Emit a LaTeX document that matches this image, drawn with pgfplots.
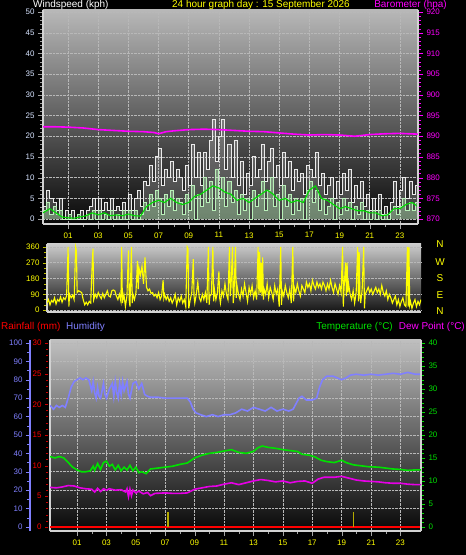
\documentclass[border=0pt]{standalone}
\usepackage{pgfplots}
\pgfplotsset{compat=1.18}
\usepackage{fontspec}
\setmainfont{Liberation Sans}
\definecolor{tyel}{RGB}{255,255,0}
\definecolor{tmag}{RGB}{255,0,255}
\definecolor{dmag}{RGB}{230,0,230}
\definecolor{hum}{RGB}{128,128,255}
\definecolor{tgreen}{RGB}{0,225,0}
\definecolor{wlab}{RGB}{215,228,255}
\definecolor{pgreen}{RGB}{185,240,185}
\definecolor{agreen}{RGB}{0,220,0}
\definecolor{olv}{RGB}{180,170,0}
\definecolor{bord}{RGB}{210,210,210}
\newcommand{\tk}{\fontsize{8}{9}\selectfont}
\newcommand{\ttl}{\fontsize{10}{12}\selectfont}
\pgfplotsset{
  base/.style={scale only axis, anchor=south west,
    /pgf/number format/assume math mode=true,
    tick label style={font=\tk},
    tick align=outside, major tick length=5bp, minor tick length=3bp,
    axis line style={bord, line width=1.2bp},
    grid style={densely dotted, white!72!black, line width=0.5bp},
    clip=true},
  hourx/.style={xtick={1,3,...,23},
    xticklabels={01,03,05,07,09,11,13,15,17,19,21,23},
    xticklabel style={text=tyel},
    minor x tick num=1, x tick style={gray!70}},
}
\begin{document}
\begin{tikzpicture}
\useasboundingbox (0,0) rectangle (466bp,555bp);
\fill[black] (0,0) rectangle (466bp,555bp);

% ---------------- Panel 1: wind speed ----------------
\begin{axis}[base, hourx, at={(43bp,331bp)}, width=375bp, height=214bp,
  xmin=-0.66, xmax=24.2, ymin=-1.2, ymax=50.5,
  axis background/.style={top color=black!28, bottom color=black!97},
  axis x line*=bottom, axis y line*=left,
  ytick={0,5,...,50}, minor y tick num=4,
  yticklabel style={text=wlab}, y tick style={gray!75},
  xmajorgrids, ymajorgrids]
\addplot[const plot, draw=none, fill=white, fill opacity=0.2] coordinates {
(-0.66,3)(-0.6,3)(-0.4,7)(-0.2,5)(0,4)(0.2,2)(0.4,5)(0.6,0)(0.8,2)(1.0,0)(1.2,2)(1.4,0)(1.6,0)(1.8,2)(2.0,0)(2.2,2)(2.4,3)(2.6,5)(2.8,2)(3.0,5)(3.2,2)(3.4,4)(3.6,2)(3.8,5)(4.0,2)(4.2,3)(4.4,2)(4.6,4)(4.8,2)(5.0,6)(5.2,2)(5.4,5)(5.6,7)(5.8,3)(6.0,9)(6.2,8)(6.4,13)(6.6,9)(6.8,15)(7.0,17)(7.2,8)(7.4,12)(7.6,10)(7.8,14)(8.0,9)(8.2,12)(8.4,10)(8.6,7)(8.8,13)(9.0,8)(9.2,18)(9.4,10)(9.6,16)(9.8,8)(10.0,16)(10.2,12)(10.4,19)(10.6,24)(10.8,14)(11.0,20)(11.2,24)(11.4,12)(11.6,18)(11.8,10)(12.0,19)(12.2,8)(12.4,14)(12.6,6)(12.8,11)(13.0,8)(13.2,15)(13.4,10)(13.6,12)(13.8,18)(14.0,9)(14.2,14)(14.4,17)(14.6,10)(14.8,13)(15.0,8)(15.2,16)(15.4,10)(15.6,14)(15.8,7)(16.0,12)(16.2,9)(16.4,11)(16.6,6)(16.8,13)(17.0,12)(17.2,10)(17.4,16)(17.6,8)(17.8,11)(18.0,6)(18.2,8)(18.4,10)(18.6,5)(18.8,9)(19.0,6)(19.2,11)(19.4,7)(19.6,12)(19.8,4)(20.0,8)(20.2,5)(20.4,9)(20.6,3)(20.8,6)(21.0,2)(21.2,5)(21.4,2)(21.6,6)(21.8,1)(22.0,3)(22.2,1)(22.4,4)(22.6,9)(22.8,3)(23.0,7)(23.2,10)(23.4,5)(23.6,9)(23.8,6)(24.0,8)(24.2,5)} \closedcycle;
\addplot[const plot, color=white!92!black, line width=0.9bp] coordinates {
(-0.66,3)(-0.6,3)(-0.4,7)(-0.2,5)(0,4)(0.2,2)(0.4,5)(0.6,0)(0.8,2)(1.0,0)(1.2,2)(1.4,0)(1.6,0)(1.8,2)(2.0,0)(2.2,2)(2.4,3)(2.6,5)(2.8,2)(3.0,5)(3.2,2)(3.4,4)(3.6,2)(3.8,5)(4.0,2)(4.2,3)(4.4,2)(4.6,4)(4.8,2)(5.0,6)(5.2,2)(5.4,5)(5.6,7)(5.8,3)(6.0,9)(6.2,8)(6.4,13)(6.6,9)(6.8,15)(7.0,17)(7.2,8)(7.4,12)(7.6,10)(7.8,14)(8.0,9)(8.2,12)(8.4,10)(8.6,7)(8.8,13)(9.0,8)(9.2,18)(9.4,10)(9.6,16)(9.8,8)(10.0,16)(10.2,12)(10.4,19)(10.6,24)(10.8,14)(11.0,20)(11.2,24)(11.4,12)(11.6,18)(11.8,10)(12.0,19)(12.2,8)(12.4,14)(12.6,6)(12.8,11)(13.0,8)(13.2,15)(13.4,10)(13.6,12)(13.8,18)(14.0,9)(14.2,14)(14.4,17)(14.6,10)(14.8,13)(15.0,8)(15.2,16)(15.4,10)(15.6,14)(15.8,7)(16.0,12)(16.2,9)(16.4,11)(16.6,6)(16.8,13)(17.0,12)(17.2,10)(17.4,16)(17.6,8)(17.8,11)(18.0,6)(18.2,8)(18.4,10)(18.6,5)(18.8,9)(19.0,6)(19.2,11)(19.4,7)(19.6,12)(19.8,4)(20.0,8)(20.2,5)(20.4,9)(20.6,3)(20.8,6)(21.0,2)(21.2,5)(21.4,2)(21.6,6)(21.8,1)(22.0,3)(22.2,1)(22.4,4)(22.6,9)(22.8,3)(23.0,7)(23.2,10)(23.4,5)(23.6,9)(23.8,6)(24.0,8)(24.2,5)};
\addplot[const plot, draw=none, fill=pgreen, fill opacity=0.4] coordinates {
(-0.66,2)(-0.6,2)(-0.4,4)(-0.2,1)(0,3)(0.2,1)(0.4,2)(0.6,0)(0.8,0)(1.0,1)(1.2,0)(1.4,0)(1.6,1)(1.8,0)(2.0,0)(2.2,1)(2.4,0)(2.6,2)(2.8,0)(3.0,2)(3.2,0)(3.4,1)(3.6,0)(3.8,2)(4.0,0)(4.2,1)(4.4,0)(4.6,2)(4.8,0)(5.0,2)(5.2,0)(5.4,2)(5.6,0)(5.8,1)(6.0,4)(6.2,2)(6.4,6)(6.6,3)(6.8,7)(7.0,5)(7.2,1)(7.4,6)(7.6,3)(7.8,7)(8.0,2)(8.2,5)(8.4,4)(8.6,1)(8.8,6)(9.0,2)(9.2,8)(9.4,0)(9.6,6)(9.8,3)(10.0,10)(10.2,4)(10.4,9)(10.6,2)(10.8,12)(11.0,5)(11.2,10)(11.4,3)(11.6,9)(11.8,4)(12.0,7)(12.2,1)(12.4,6)(12.6,2)(12.8,5)(13.0,0)(13.2,7)(13.4,3)(13.6,6)(13.8,9)(14.0,2)(14.2,7)(14.4,10)(14.6,3)(14.8,6)(15.0,0)(15.2,8)(15.4,3)(15.6,6)(15.8,1)(16.0,5)(16.2,2)(16.4,5)(16.6,0)(16.8,7)(17.0,9)(17.2,4)(17.4,7)(17.6,2)(17.8,5)(18.0,1)(18.2,3)(18.4,5)(18.6,0)(18.8,4)(19.0,1)(19.2,5)(19.4,2)(19.6,4)(19.8,0)(20.0,3)(20.2,1)(20.4,4)(20.6,0)(20.8,2)(21.0,0)(21.2,2)(21.4,0)(21.6,2)(21.8,0)(22.0,1)(22.2,0)(22.4,2)(22.6,3)(22.8,1)(23.0,3)(23.2,5)(23.4,2)(23.6,4)(23.8,2)(24.0,4)(24.2,2)} \closedcycle;
\addplot[const plot, color=pgreen, line width=0.9bp] coordinates {
(-0.66,2)(-0.6,2)(-0.4,4)(-0.2,1)(0,3)(0.2,1)(0.4,2)(0.6,0)(0.8,0)(1.0,1)(1.2,0)(1.4,0)(1.6,1)(1.8,0)(2.0,0)(2.2,1)(2.4,0)(2.6,2)(2.8,0)(3.0,2)(3.2,0)(3.4,1)(3.6,0)(3.8,2)(4.0,0)(4.2,1)(4.4,0)(4.6,2)(4.8,0)(5.0,2)(5.2,0)(5.4,2)(5.6,0)(5.8,1)(6.0,4)(6.2,2)(6.4,6)(6.6,3)(6.8,7)(7.0,5)(7.2,1)(7.4,6)(7.6,3)(7.8,7)(8.0,2)(8.2,5)(8.4,4)(8.6,1)(8.8,6)(9.0,2)(9.2,8)(9.4,0)(9.6,6)(9.8,3)(10.0,10)(10.2,4)(10.4,9)(10.6,2)(10.8,12)(11.0,5)(11.2,10)(11.4,3)(11.6,9)(11.8,4)(12.0,7)(12.2,1)(12.4,6)(12.6,2)(12.8,5)(13.0,0)(13.2,7)(13.4,3)(13.6,6)(13.8,9)(14.0,2)(14.2,7)(14.4,10)(14.6,3)(14.8,6)(15.0,0)(15.2,8)(15.4,3)(15.6,6)(15.8,1)(16.0,5)(16.2,2)(16.4,5)(16.6,0)(16.8,7)(17.0,9)(17.2,4)(17.4,7)(17.6,2)(17.8,5)(18.0,1)(18.2,3)(18.4,5)(18.6,0)(18.8,4)(19.0,1)(19.2,5)(19.4,2)(19.6,4)(19.8,0)(20.0,3)(20.2,1)(20.4,4)(20.6,0)(20.8,2)(21.0,0)(21.2,2)(21.4,0)(21.6,2)(21.8,0)(22.0,1)(22.2,0)(22.4,2)(22.6,3)(22.8,1)(23.0,3)(23.2,5)(23.4,2)(23.6,4)(23.8,2)(24.0,4)(24.2,2)};
\addplot[agreen, line width=1.1bp] coordinates {
(-0.66,1.5)(-0.2,2.5)(0.2,1.5)(0.6,0.5)(1.0,0.3)(1.4,0.2)(1.8,0.5)(2.2,0.8)(2.6,1.5)(3.0,1.0)(3.4,1.5)(3.8,0.8)(4.2,1.0)(4.6,0.8)(5.0,1.2)(5.4,0.8)(5.8,0.7)(6.2,3.0)(6.6,4.0)(7.0,4.5)(7.4,4.0)(7.8,5.0)(8.2,4.0)(8.6,3.5)(9.0,4.0)(9.4,5.5)(9.8,6.0)(10.2,7.0)(10.6,8.0)(11.0,7.5)(11.4,6.5)(11.8,6.0)(12.2,4.5)(12.6,5.0)(13.0,4.0)(13.4,5.0)(13.8,6.0)(14.2,7.0)(14.6,6.0)(15.0,4.5)(15.4,5.0)(15.8,4.0)(16.2,4.5)(16.6,4.0)(17.0,7.0)(17.4,8.0)(17.8,5.0)(18.2,4.5)(18.6,3.5)(19.0,2.5)(19.4,3.0)(19.8,2.5)(20.2,2.0)(20.6,2.0)(21.0,1.5)(21.4,1.5)(21.8,0.8)(22.2,1.0)(22.6,2.5)(23.0,2.5)(23.4,3.5)(23.8,4.0)(24.2,3.0)};
\end{axis}

% Barometer
\begin{axis}[base, at={(43bp,331bp)}, width=375bp, height=214bp,
  xmin=-0.66, xmax=24.2, ymin=868.8, ymax=920.5,
  axis y line*=right, axis x line=none,
  ytick={870,875,...,920}, minor y tick num=4,
  yticklabel style={text=tmag}, y tick style={tmag}]
\addplot[tmag, line width=1.6bp] coordinates {
(-0.66,892.3)(0,892.3)(1,892.2)(2,892.0)(3,891.6)(4,891.4)(5,891.2)(6,891.1)(6.7,890.9)(7,890.6)(7.5,891.1)(8,891.3)(9,891.6)(10,891.7)(11,891.6)(12,891.4)(13,891.2)(14,891.1)(15,890.8)(16,890.5)(17,890.3)(18,890.4)(19,890.3)(20,890.0)(21,890.4)(22,890.6)(23,890.7)(24.2,890.5)};
\end{axis}

% ---------------- Panel 2: wind direction ----------------
\begin{axis}[base, at={(47bp,243bp)}, width=374bp, height=68bp,
  xmin=-0.4, xmax=24.4, ymin=-11, ymax=377,
  axis background/.style={top color=black!20, bottom color=black!92},
  axis x line*=bottom, axis y line*=left,
  xtick=\empty, ytick={0,90,180,270,360}, minor y tick num=2,
  major tick length=4bp, minor tick length=3bp,
  yticklabel style={text=tyel}, y tick style={tyel!75!black},
  ymajorgrids]
\addplot[tyel, line width=1.1bp] coordinates {
(-0.4,40)(-0.3,60)(-0.2,30)(-0.1,55)(0,45)(0.1,70)(0.2,35)(0.3,60)(0.4,50)(0.5,75)(0.6,45)(0.7,70)(0.8,60)(0.9,80)(1.0,360)(1.05,20)(1.1,90)(1.2,70)(1.3,85)(1.4,60)(1.5,360)(1.55,340)(1.6,100)(1.7,110)(1.8,105)(1.9,100)(2.0,60)(2.1,30)(2.2,45)(2.3,30)(2.4,50)(2.5,40)(2.6,270)(2.65,350)(2.7,60)(2.8,90)(2.9,70)(3.0,100)(3.1,80)(3.2,65)(3.3,95)(3.4,70)(3.5,90)(3.6,110)(3.7,80)(3.8,75)(3.9,110)(4.0,115)(4.1,110)(4.2,80)(4.3,60)(4.4,90)(4.5,50)(4.55,360)(4.6,40)(4.7,90)(4.8,20)(4.9,80)(5.0,340)(5.05,60)(5.1,20)(5.2,360)(5.25,40)(5.3,90)(5.4,60)(5.5,100)(5.6,280)(5.65,120)(5.7,240)(5.8,200)(5.9,250)(6.0,150)(6.1,300)(6.2,130)(6.3,110)(6.4,120)(6.5,95)(6.6,100)(6.7,80)(6.8,90)(6.9,70)(7.0,100)(7.1,60)(7.2,80)(7.3,170)(7.35,70)(7.4,90)(7.5,60)(7.6,80)(7.7,50)(7.8,70)(7.9,40)(8.0,60)(8.1,90)(8.2,30)(8.3,70)(8.4,50)(8.5,80)(8.6,40)(8.7,60)(8.8,20)(8.9,360)(8.95,350)(9.0,10)(9.1,60)(9.2,100)(9.3,290)(9.35,80)(9.4,40)(9.5,90)(9.6,160)(9.7,70)(9.8,50)(9.9,90)(10.0,60)(10.1,100)(10.2,40)(10.3,360)(10.35,30)(10.4,80)(10.5,90)(10.6,360)(10.65,50)(10.7,120)(10.8,60)(10.9,100)(11.0,220)(11.05,70)(11.1,40)(11.2,110)(11.3,80)(11.4,150)(11.5,90)(11.6,60)(11.7,360)(11.75,80)(11.8,130)(11.9,360)(11.95,40)(12.0,100)(12.1,360)(12.15,70)(12.2,140)(12.3,90)(12.4,60)(12.5,120)(12.6,80)(12.7,150)(12.8,100)(12.9,50)(13.0,130)(13.1,90)(13.2,140)(13.3,70)(13.4,110)(13.5,60)(13.6,360)(13.65,90)(13.7,330)(13.75,100)(13.8,270)(13.85,80)(13.9,300)(13.95,60)(14.0,120)(14.1,90)(14.2,150)(14.3,70)(14.4,130)(14.5,100)(14.6,60)(14.7,140)(14.8,90)(14.9,120)(15.0,20)(15.1,360)(15.15,30)(15.2,110)(15.3,80)(15.4,140)(15.5,100)(15.6,70)(15.7,120)(15.8,40)(15.9,360)(15.95,50)(16.0,130)(16.1,100)(16.2,150)(16.3,110)(16.4,80)(16.5,140)(16.6,120)(16.7,100)(16.8,160)(16.9,130)(17.0,150)(17.1,110)(17.2,170)(17.3,140)(17.4,120)(17.5,160)(17.6,130)(17.7,150)(17.8,120)(17.9,160)(18.0,140)(18.1,110)(18.2,150)(18.3,120)(18.4,170)(18.5,130)(18.6,100)(18.7,150)(18.8,120)(18.9,90)(19.0,140)(19.1,100)(19.2,360)(19.25,20)(19.3,130)(19.4,270)(19.45,80)(19.5,270)(19.55,100)(19.6,150)(19.7,90)(19.8,60)(19.9,110)(20.0,40)(20.1,100)(20.2,360)(20.25,50)(20.3,330)(20.35,90)(20.4,40)(20.5,120)(20.6,360)(20.65,10)(20.7,90)(20.8,110)(20.9,130)(21.0,100)(21.1,120)(21.2,90)(21.3,110)(21.4,130)(21.5,100)(21.6,120)(21.7,90)(21.8,140)(21.9,100)(22.0,80)(22.1,110)(22.2,60)(22.3,90)(22.4,70)(22.5,40)(22.6,60)(22.7,80)(22.8,30)(22.9,60)(23.0,20)(23.1,50)(23.2,70)(23.3,30)(23.4,20)(23.5,360)(23.55,20)(23.6,360)(23.65,30)(23.7,50)(23.8,10)(23.9,40)(24.0,60)(24.1,20)(24.2,50)(24.3,30)(24.4,60)};
\end{axis}

% ---------------- Panel 3: humidity / rain / temperature ----------------
\begin{axis}[base, hourx, at={(50bp,24bp)}, width=371bp, height=191bp,
  xmin=-0.84, xmax=24.4, ymin=-2.2, ymax=101.6,
  axis background/.style={top color=black!25, bottom color=black!97},
  axis x line*=bottom, axis y line*=left,
  ytick={0,10,...,100}, yticklabels={}, y tick style={draw=none},
  xmajorgrids, ymajorgrids]
\addplot[hum, line width=1.6bp] coordinates {
(-0.84,66)(-0.6,64)(-0.4,66)(-0.2,65)(0,66)(0.2,65)(0.4,70)(0.6,76)(0.8,79)(1.0,80)(1.2,81)(1.4,80)(1.6,81)(1.8,80)(2.0,74)(2.1,79)(2.2,73)(2.3,70)(2.4,76)(2.5,71)(2.6,70)(2.8,78)(2.9,72)(3.0,70)(3.2,75)(3.4,78)(3.5,71)(3.6,79)(3.7,73)(3.8,70)(3.9,78)(4.0,72)(4.1,79)(4.2,74)(4.4,79)(4.5,72)(4.6,70)(4.8,78)(5.0,79)(5.2,75)(5.4,78)(5.6,72)(5.8,71)(6.0,70.5)(6.5,70.5)(7.0,70)(7.5,70)(8.0,70)(8.5,70)(8.7,68)(8.9,64)(9.1,62)(9.4,61)(9.8,60)(10.2,61)(10.6,60)(11.0,61)(11.4,61)(11.8,62)(12.2,64)(12.6,63)(13.0,65)(13.4,64)(13.8,63)(14.2,65)(14.6,63)(15.0,64)(15.4,63)(15.7,64)(15.9,67)(16.1,70)(16.3,71)(16.6,69)(17.0,69)(17.3,70)(17.5,76)(17.7,80)(18.0,82)(18.4,82)(18.7,81)(19.0,80)(19.3,81)(19.6,82.5)(20.0,83)(20.5,82.5)(21.0,83)(21.5,82.5)(22.0,83)(22.5,83.5)(23.0,83)(23.5,84)(24.0,83)(24.4,83)};
\addplot[red, line width=2bp] coordinates {(-0.84,0)(24.4,0)};
\addplot[olv, line width=1.5bp, ycomb] coordinates {(7.2,8.2)(19.8,8.2)};
\end{axis}

% Temperature / dew point
\begin{axis}[base, at={(50bp,24bp)}, width=371bp, height=191bp,
  xmin=-0.84, xmax=24.4, ymin=-0.88, ymax=40.64,
  axis y line*=right, axis x line=none,
  ytick={0,5,...,40}, minor y tick num=4, major tick length=4bp, minor tick length=3bp,
  yticklabel style={text=tgreen}, y tick style={tgreen}]
\addplot[tgreen, line width=1.6bp] coordinates {
(-0.84,15.3)(-0.5,15.0)(-0.2,15.3)(0.1,15.0)(0.4,14.0)(0.7,13.0)(1.0,12.4)(1.3,12.0)(1.6,12.0)(1.9,12.2)(2.1,13.2)(2.2,12.3)(2.4,13.8)(2.6,12.5)(2.8,14.0)(3.0,14.3)(3.2,13.2)(3.4,13.6)(3.6,12.4)(3.8,13.4)(4.0,12.2)(4.2,13.0)(4.4,12.4)(4.6,13.4)(4.8,12.2)(5.0,13.0)(5.2,11.8)(5.4,12.0)(5.7,11.6)(6.0,12.6)(6.5,12.8)(7.0,13.0)(7.5,13.2)(8.0,13.6)(8.5,13.9)(9.0,15.0)(9.5,15.6)(10.0,16.0)(10.5,16.2)(11.0,16.5)(11.5,16.8)(12.0,16.2)(12.5,16.0)(13.0,16.4)(13.3,17.2)(13.6,17.6)(14.0,17.3)(14.5,17.1)(15.0,16.8)(15.5,16.6)(16.0,16.4)(16.3,15.8)(16.8,15.6)(17.2,15.2)(17.6,14.5)(18.0,14.2)(18.5,14.0)(19.0,14.5)(19.3,14.0)(19.8,13.5)(20.3,13.3)(20.8,13.1)(21.5,13.0)(22.0,12.8)(22.5,12.6)(23.0,12.5)(23.5,12.3)(24.0,12.4)(24.4,12.4)};
\addplot[dmag, line width=1.6bp] coordinates {
(-0.84,8.6)(-0.4,8.5)(0,8.7)(0.4,9.0)(0.8,8.9)(1.2,8.5)(1.6,8.3)(2.0,8.2)(2.2,7.6)(2.4,8.4)(2.6,7.7)(2.8,8.3)(3.0,8.0)(3.2,8.3)(3.6,8.0)(4.0,8.1)(4.3,7.6)(4.4,8.3)(4.5,6.6)(4.6,8.2)(4.7,6.8)(4.8,8.0)(5.0,7.4)(5.2,7.8)(5.5,7.2)(5.8,7.5)(6.0,6.8)(6.3,7.3)(7.0,7.4)(7.5,7.3)(8.0,7.3)(8.5,7.4)(9.0,8.2)(9.5,8.5)(10.0,8.8)(10.5,8.9)(11.0,9.3)(11.5,9.6)(12.0,9.2)(12.5,9.6)(13.0,10.0)(13.5,10.3)(14.0,10.1)(14.5,9.8)(15.0,10.0)(15.5,9.6)(16.0,9.9)(16.5,10.0)(17.0,9.5)(17.4,10.4)(17.8,10.8)(18.5,10.8)(19.0,11.0)(19.5,10.6)(20.0,10.2)(20.5,10.0)(21.0,9.9)(21.5,9.8)(22.0,9.6)(22.5,9.5)(23.0,9.5)(23.5,9.3)(24.0,9.2)(24.4,9.2)};
\end{axis}

% Humidity scale (blue line at left)
\begin{axis}[base, at={(30bp,24bp)}, width=1bp, height=191bp,
  xmin=0, xmax=1, ymin=-2.2, ymax=101.6,
  axis y line*=left, axis x line=none,
  y axis line style={hum, line width=2bp},
  ytick={0,10,...,100}, minor y tick num=1, major tick length=4bp, minor tick length=3bp,
  yticklabel style={text=hum}, y tick style={hum}]
\addplot[draw=none] coordinates {(0,0)};
\end{axis}

% Rainfall scale
\begin{axis}[base, at={(48bp,24bp)}, width=1bp, height=191bp,
  xmin=0, xmax=1, ymin=-0.66, ymax=30.48,
  axis y line*=left, axis x line=none,
  y axis line style={draw=none},
  ytick={0,5,...,30}, minor y tick num=4, major tick length=3bp, minor tick length=2bp,
  yticklabel style={text=red}, y tick style={red!80!black}]
\addplot[draw=none] coordinates {(0,0)};
\end{axis}

% ---------------- Titles ----------------
\node[anchor=west, text=white, font=\ttl, inner sep=0] at (33bp,550.5bp) {Windspeed (kph)};
\node[anchor=west, text=tyel, font=\ttl, inner sep=0] at (172bp,550.5bp) {24 hour graph day : 15 September 2026};
\node[anchor=east, text=tmag, font=\ttl, inner sep=0] at (447bp,550.5bp) {Barometer (hpa)};
\node[anchor=center, text=tyel, font=\ttl] at (440bp,311bp) {N};
\node[anchor=center, text=tyel, font=\ttl] at (440bp,293bp) {W};
\node[anchor=center, text=tyel, font=\ttl] at (440bp,277bp) {S};
\node[anchor=center, text=tyel, font=\ttl] at (440bp,260bp) {E};
\node[anchor=center, text=tyel, font=\ttl] at (440bp,244bp) {N};
\node[anchor=west, text=red, font=\ttl, inner sep=0] at (1bp,228bp) {Rainfall (mm)};
\node[anchor=west, text=hum, font=\ttl, inner sep=0] at (66bp,228bp) {Humidity};
\node[anchor=east, text=tgreen, font=\ttl, inner sep=0] at (393bp,228bp) {Temperature (°C)};
\node[anchor=east, text=tmag, font=\ttl, inner sep=0] at (465bp,228bp) {Dew Point (°C)};
\end{tikzpicture}
\end{document}
